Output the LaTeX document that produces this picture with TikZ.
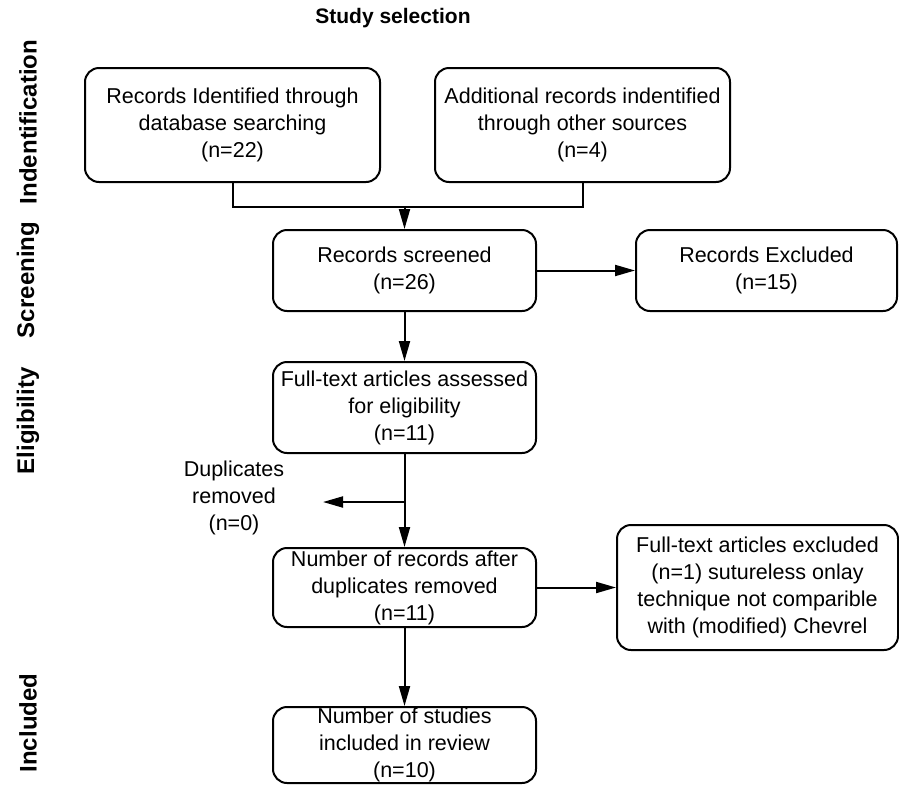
\documentclass[tikz,border=0pt]{standalone}
\usepackage{fontspec}
\setmainfont{Liberation Sans}
\usetikzlibrary{arrows.meta,positioning}

\begin{document}
\begin{tikzpicture}[x=1pt,y=-1pt,
          every node/.style={font=\fontsize{21.5}{27}\selectfont},
          recbox/.style={draw,line width=2pt,rounded corners=14pt,
              align=center,inner sep=2pt},
          phase/.style={rotate=90,font=\fontsize{24}{27}\selectfont\bfseries},
          link/.style={line width=2pt},
          flow/.style={link,-{Triangle[length=20pt,width=11pt]}}]
        \useasboundingbox (0,0) rectangle (899,785);
        \node[font=\fontsize{21}{24}\selectfont\bfseries] (title) at (393,18) {Study selection};
        % phases
        \node[phase] (pident) at (28,122) {Indentification};
        \node[phase] (pscreen) at (28,280) {Screening};
        \node[phase] (pelig) at (28,421) {Eligibility};
        \node[phase] (pincl) at (28,723) {Included};
        % boxes
        \node[recbox,minimum width=295pt,minimum height=114pt] (ident) at (232.5,125) {Records Identified through\\database searching\\(n=22)};
        \node[recbox,minimum width=295pt,minimum height=114pt] (other) at (582.5,125) {Additional records indentified\\through other sources\\(n=4)};
        \node[recbox,minimum width=263pt,minimum height=81pt] (screen) at (404.5,270.5) {Records screened\\(n=26)};
        \node[recbox,minimum width=261pt,minimum height=81pt] (excl) at (766.5,270.5) {Records Excluded\\(n=15)};
        \node[recbox,minimum width=263pt,minimum height=91pt] (elig) at (404.5,407.5) {Full-text articles assessed\\for eligibility\\(n=11)};
        \node[recbox,minimum width=263pt,minimum height=79pt] (nodup) at (404.5,587.5) {Number of records after\\duplicates removed\\(n=11)};
        \node[recbox,minimum width=281pt,minimum height=125pt] (ftexcl) at (757.5,587.5) {Full-text articles excluded\\(n=1) sutureless onlay\\technique not comparible\\with (modified) Chevrel};
        \node[recbox,minimum width=263pt,minimum height=76pt,inner ysep=0pt] (incl) at (404.5,745) {Number of studies\\included in review\\(n=10)};
        \node[align=center] (dup) at (234,498) {Duplicates\\removed\\(n=0)};
        % connectors
        \coordinate (join) at (404.5,207);
        \coordinate (split) at (404.5,502);
        \coordinate (dupend) at (323,502);
        \draw[link] (ident.south) |- (join) -| (other.south);
        \draw[flow] (join) -- (screen);
        \draw[flow] (split) -- (dupend);
        \foreach \x/\y in {screen/excl,screen/elig,elig/nodup,nodup/ftexcl,nodup/incl}
        \draw[flow] (\x)--(\y);
      \end{tikzpicture}
\end{document}
